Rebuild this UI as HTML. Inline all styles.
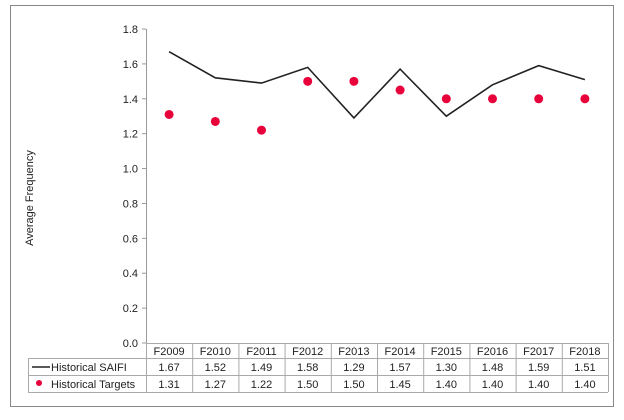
<!DOCTYPE html>
<html><head><meta charset="utf-8"><style>
body{margin:0;background:#fff;width:624px;height:415px;overflow:hidden;font-family:"Liberation Sans",Arial,sans-serif}
svg text{font-family:"Liberation Sans",Arial,sans-serif;font-size:11px;fill:#222}
</style></head><body>
<svg id="chart" width="624" height="415">
<rect x="10.5" y="5.5" width="603" height="401" fill="#fff" stroke="#888"/>
<text transform="translate(33,198) rotate(-90)" text-anchor="middle">Average Frequency</text>
<g id="g"></g>
</svg>
<script>
const categories=["F2009","F2010","F2011","F2012","F2013","F2014","F2015","F2016","F2017","F2018"];
const saifi=[1.67,1.52,1.49,1.58,1.29,1.57,1.30,1.48,1.59,1.51];
const targets=[1.31,1.27,1.22,1.50,1.50,1.45,1.40,1.40,1.40,1.40];
const yTicks=[0,0.2,0.4,0.6,0.8,1.0,1.2,1.4,1.6,1.8];
const X0=146,X1=608,Y0=343,Y1=29,YMAX=1.8;
const cw=(X1-X0)/categories.length;
const x=i=>X0+cw*(i+0.5);
const y=v=>Y0-(v/YMAX)*(Y0-Y1);
const NS="http://www.w3.org/2000/svg",g=document.getElementById('g');
function mk(t,a,txt){const e=document.createElementNS(NS,t);for(const k in a)e.setAttribute(k,a[k]);if(txt!=null)e.textContent=txt;g.appendChild(e);return e;}
let e=mk('line',{x1:X0+.5,x2:X0+.5,y1:Y1,y2:Y0,stroke:'#999'});


yTicks.forEach(t=>{const l=mk('line',{x1:X0-4,x2:X0,y1:y(t),y2:y(t),stroke:'#999'});


const tx=mk('text',{x:X0-8,y:y(t)+4,'text-anchor':'end'},t.toFixed(1));

});
const p=mk('polyline',{points:saifi.map((v,i)=>x(i)+','+y(v)).join(' '),fill:'none',stroke:'#222','stroke-width':1.6});


targets.forEach((v,i)=>{const c=mk('circle',{cx:x(i),cy:y(v),r:4.5,fill:'#e8003a'});

});
// table
const rows=[343,358,375,392],LX=28;
const gs='#aaa';
rows.forEach((ry,k)=>{const l=mk('line',{x1:k==0?X0:LX,x2:X1,y1:ry+.5,y2:ry+.5,stroke:gs});

});
for(let i=0;i<=categories.length;i++){const l=mk('line',{x1:X0+cw*i+.5,x2:X0+cw*i+.5,y1:343,y2:392,stroke:gs});

}
const lv=mk('line',{x1:LX+.5,x2:LX+.5,y1:358,y2:392,stroke:gs});


categories.forEach((c,i)=>{
let t=mk('text',{x:x(i),y:355,'text-anchor':'middle'},c);


t=mk('text',{x:x(i),y:371,'text-anchor':'middle'},saifi[i].toFixed(2));


t=mk('text',{x:x(i),y:388,'text-anchor':'middle'},targets[i].toFixed(2));

});
let le=mk('line',{x1:32,x2:50,y1:367,y2:367,stroke:'#222','stroke-width':1.6});


le=mk('text',{x:51,y:371},'Historical SAIFI');


le=mk('circle',{cx:39,cy:383,r:3,fill:'#e8003a'});


le=mk('text',{x:51,y:388},'Historical Targets');


</script>
</body></html>
